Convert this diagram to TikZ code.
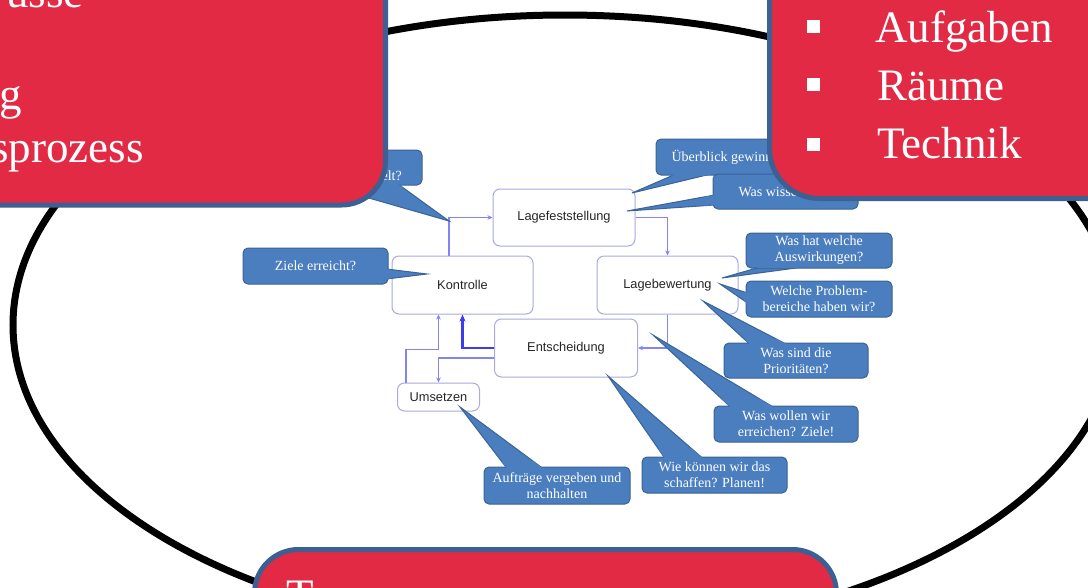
\documentclass[tikz,border=0pt]{standalone}
\usepackage{fontspec}
\setmainfont{Liberation Serif}
\newfontfamily\sansf{Liberation Sans}
\usetikzlibrary{arrows.meta,calc}
\definecolor{redfill}{HTML}{E22A45}
\definecolor{redline}{HTML}{3B6091}
\definecolor{callfill}{HTML}{4A7EBF}
\definecolor{callline}{HTML}{3A6396}
\definecolor{boxline}{HTML}{AAAAE0}
\definecolor{flowlight}{HTML}{8484F2}
\definecolor{flowdark}{HTML}{3C3CEE}
\newcommand\callout[8]{%
  \coordinate (#1tip) at #6;
  \filldraw[wedge] (#1tip) -- #7 -- #8 -- cycle;
  \node[callbox,minimum width=#3,minimum height=#4] (#1) at #2 {#5};
  \fill[callfill] #7 -- #8 -- ($#8!0.12!(#1tip)$) -- ($#7!0.12!(#1tip)$) -- cycle;
}
\begin{document}
\begin{tikzpicture}[x=1pt,y=-1pt,
  redbox/.style={fill=redfill,draw=redline,line width=5pt},
  bigtext/.style={text=white,font=\fontsize{45}{52}\selectfont,inner sep=0pt},
  stage/.style={draw=boxline,line width=1pt,fill=white,rounded corners=7pt,
    font=\sansf\fontsize{12.8}{15}\selectfont,text=black!85},
  callbox/.style={fill=callfill,draw=callline,line width=1pt,rounded corners=5pt,
    text=white,font=\fontsize{14}{16}\selectfont,align=center,inner sep=0pt},
  wedge/.style={fill=callfill,draw=callline,line width=1pt,line join=miter},
  flow/.style={draw=flowlight,line width=1.3pt,-{Stealth[length=5pt,width=4.5pt]}},
  flowthick/.style={draw=flowdark,line width=2.2pt,-{Stealth[length=7pt,width=6pt]}},
  bullet/.style={fill=white,minimum size=13pt,inner sep=0pt}
]
\useasboundingbox (0,0) rectangle (1088,587);
\clip (0,0) rectangle (1088,587);
\fill[white] (0,0) rectangle (1088,587);

% big ellipse
\draw[line width=7pt] (565,325) ellipse [x radius=552, y radius=310];

% stages
\node[stage,minimum width=142pt,minimum height=57pt] (L) at (564,217.5) {Lagefeststellung};
\node[stage,minimum width=141pt,minimum height=58pt] (K) at (462.5,285) {Kontrolle};
\node[stage,minimum width=141pt,minimum height=58pt] (B) at (667.5,285) {Lagebewertung};
\node[stage,minimum width=143pt,minimum height=58pt] (E) at (566,348) {Entscheidung};
\node[stage,minimum width=82pt,minimum height=28pt] (U) at (438.5,397) {Umsetzen};

% flows
\draw[flow] ($(K.north west)!0.404!(K.north east)$) |- (L.west);
\draw[flow] (L.east) -| (B.north);
\draw[flow] (B.south) |- (E.east);
\draw[flowthick] (E.west) -| (K.south);
\draw[flow] ($(E.west)+(0,10)$) -| (U.north);
\draw[flow] ($(U.north west)!0.11!(U.north east)$) |- ($(K.south)+(-24,35)$) -- ($(K.south)+(-24,0)$);

% callouts
\callout{c1}{(361,167.5)}{122pt}{35pt}{}{(449,221)}{(320,184)}{(398,184)}
\node[text=white,font=\fontsize{14}{16}\selectfont,inner sep=0pt,anchor=base east] (c1t) at (402,180) {elt?};
\callout{c2}{(728.5,157)}{145pt}{36pt}{Überblick gewinnen}{(632,193)}{(677,173.5)}{(713,173.5)}
\callout{c3}{(785.5,191.5)}{145pt}{35pt}{Was wissen wir?}{(627,211)}{(714.5,195)}{(714.5,205)}
\callout{c4}{(315.5,266)}{145pt}{36pt}{Ziele erreicht?}{(427,274)}{(386.5,269)}{(386.5,279)}
\callout{c5}{(819,250.5)}{146pt}{35pt}{Was hat welche\\Auswirkungen?}{(722,278)}{(762,266.5)}{(807,266.5)}
\callout{c6}{(819,299)}{146pt}{36pt}{Welche Problem-\\bereiche haben wir?}{(720,284)}{(747.5,293)}{(747.5,303)}
\callout{c7}{(796,360.5)}{144pt}{35pt}{Was sind die\\Prioritäten?}{(703,301)}{(750,344.5)}{(787,344.5)}
\callout{c8}{(786,424)}{144pt}{36pt}{Was wollen wir\\erreichen? Ziele!}{(653,335)}{(731,407.5)}{(774,407.5)}
\callout{c9}{(714.5,475)}{145pt}{36pt}{Wie können wir das\\schaffen? Planen!}{(608,376)}{(665,458.5)}{(703,458.5)}
\callout{c10}{(557,485.5)}{146pt}{37pt}{Aufträge vergeben und\\nachhalten}{(460,407)}{(507,468.5)}{(543,468.5)}

% red boxes
\draw[redbox,rounded corners=44pt] (-60,-60) rectangle (385.5,205);
\draw[redbox,rounded corners=50pt] (769.5,-60) rectangle (1160,198.5);
\draw[redbox,rounded corners=44pt] (254.5,549.5) rectangle (836.5,660);

% texts left box
\node[bigtext,anchor=base east] (t1) at (84,7) {usse};
\node[bigtext,anchor=base east] (t2) at (22,109) {g};
\node[bigtext,anchor=base east] (t3) at (144,162) {sprozess};

% right box list
\node[bullet] (b1) at (813.5,26) {};
\node[bullet] (b2) at (813.5,84) {};
\node[bullet] (b3) at (813.5,144) {};
\node[bigtext,anchor=base west] (r1) at (875,42) {Aufgaben};
\node[bigtext,anchor=base west] (r2) at (877,100) {Räume};
\node[bigtext,anchor=base west] (r3) at (877,158) {Technik};

% bottom box
\node[bigtext,anchor=base west] (m1) at (286,610) {T};
\end{tikzpicture}
\end{document}
